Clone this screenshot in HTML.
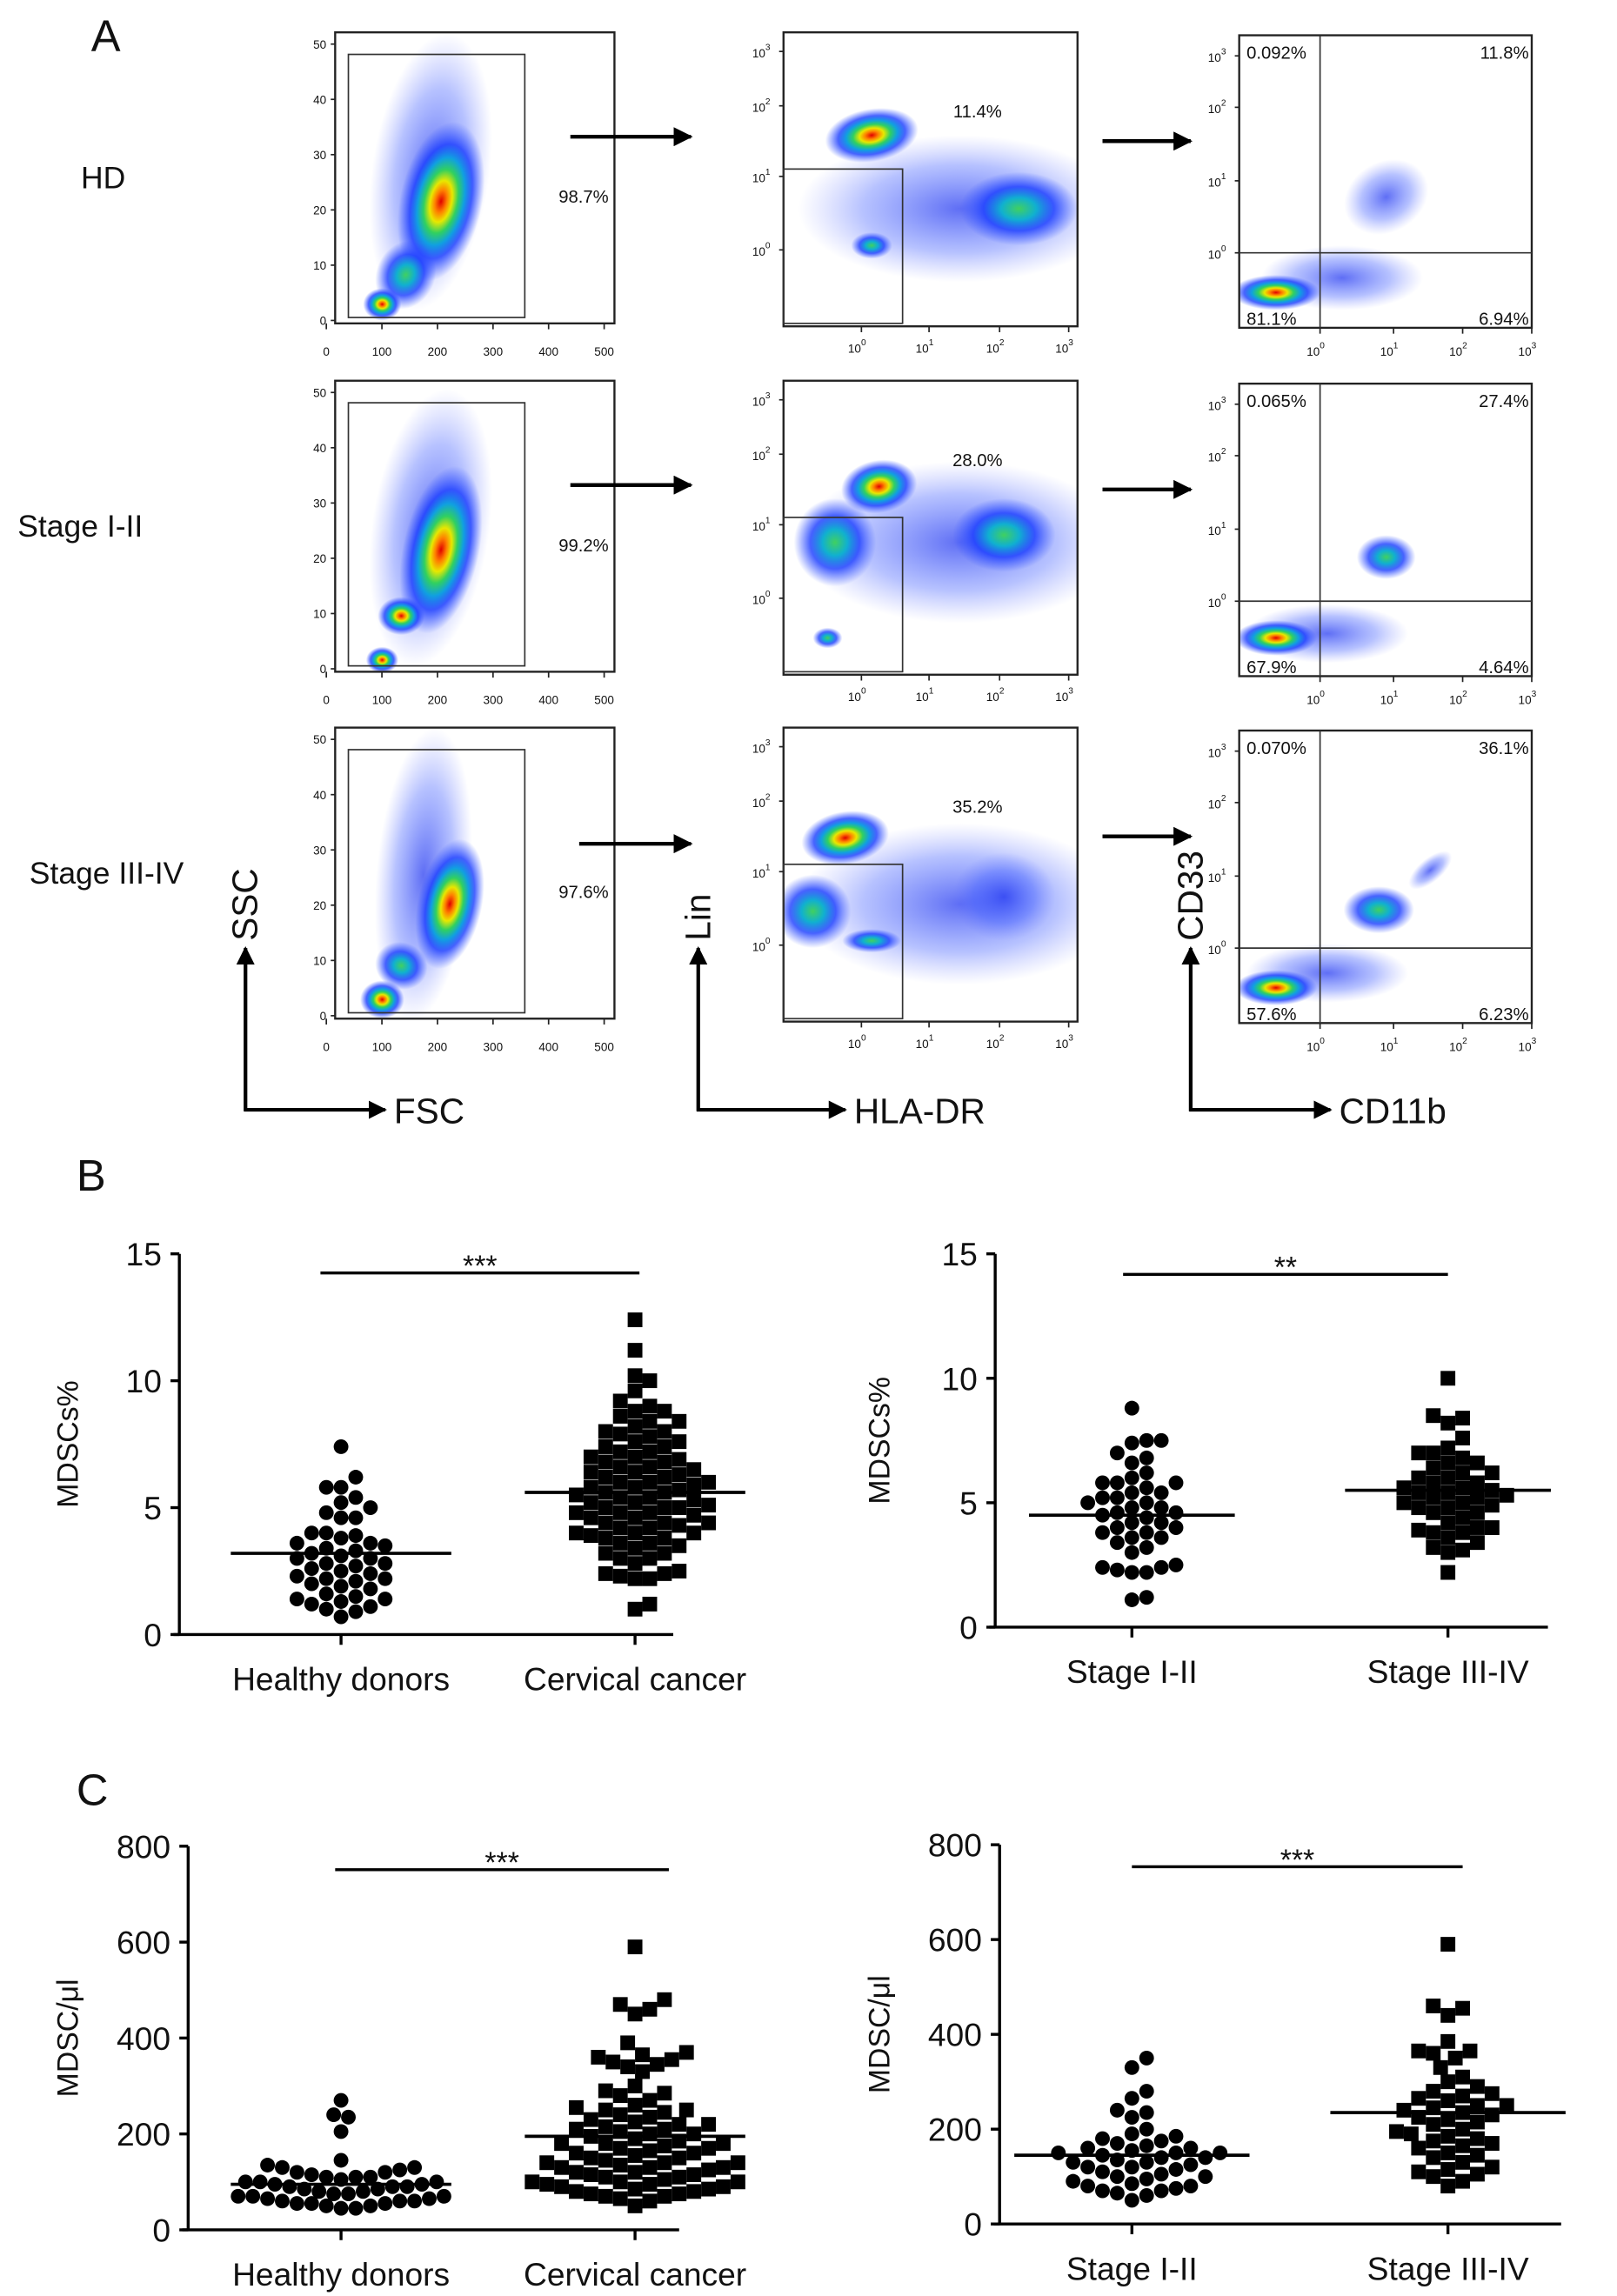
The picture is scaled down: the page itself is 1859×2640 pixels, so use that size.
<!DOCTYPE html>
<html><head><meta charset="utf-8"><title>MDSC figure</title>
<style>
html,body{margin:0;padding:0;background:#fff}
svg{display:block}
text{font-family:"Liberation Sans",Arial,sans-serif;fill:#111}
</style></head>
<body>
<svg id="fig" width="1859" height="2640" viewBox="0 0 1100 1562" preserveAspectRatio="none" xmlns="http://www.w3.org/2000/svg">
<defs>
<radialGradient id="hot"><stop offset="0" stop-color="#e00000"/><stop offset="0.14" stop-color="#ff8000"/><stop offset="0.26" stop-color="#e8e800"/><stop offset="0.4" stop-color="#30d060"/><stop offset="0.55" stop-color="#10a0e0"/><stop offset="0.72" stop-color="#1a3cff" stop-opacity="0.8"/><stop offset="1" stop-color="#3050ff" stop-opacity="0"/></radialGradient>
<radialGradient id="warm"><stop offset="0" stop-color="#40d060"/><stop offset="0.3" stop-color="#10b0d0"/><stop offset="0.6" stop-color="#1a3cff" stop-opacity="0.8"/><stop offset="1" stop-color="#3050ff" stop-opacity="0"/></radialGradient>
<radialGradient id="cool"><stop offset="0" stop-color="#1a30f0" stop-opacity="0.7"/><stop offset="0.6" stop-color="#3050ff" stop-opacity="0.35"/><stop offset="1" stop-color="#6070ff" stop-opacity="0"/></radialGradient>
<marker id="ah" viewBox="0 0 10 10" refX="9" refY="5" markerWidth="5" markerHeight="5" orient="auto"><path d="M0,0 L10,5 L0,10z" fill="#000"/></marker>
</defs>
<g id="flow"></g>
</svg>
<script>
const NS='http://www.w3.org/2000/svg';
const fig=document.getElementById('fig');
function el(tag,attrs,parent){const e=document.createElementNS(NS,tag);for(const k in attrs)e.setAttribute(k,attrs[k]);(parent||fig).appendChild(e);return e;}
function txt(x,y,s,size,anchor,parent,extra){const t=el('text',Object.assign({x:x,y:y,'font-size':size,'text-anchor':anchor||'start'},extra||{}),parent);t.textContent=s;return t;}

// ---------- Panel A (flow cytometry) ----------
const rowLabels=['HD','Stage I-II','Stage III-IV'];
const rowLabelX=[55,12,20];
const gatePct=['98.7%','99.2%','97.6%'];
const linPct=['11.4%','28.0%','35.2%'];
const q1=['0.092%','0.065%','0.070%'];
const q2=['11.8%','27.4%','36.1%'];
const q3=['81.1%','67.9%','57.6%'];
const q4=['6.94%','4.64%','6.23%'];
const rowOff=[0,237,473];

let t=txt(62,35,'A',30);

const blobs1=[[[65,95,40,95,8,'cool'],[72,115,28,55,12,'hot'],[48,165,20,24,25,'warm'],[32,185,13,11,0,'hot']],
 [[65,100,40,95,8,'cool'],[72,115,26,58,12,'hot'],[45,160,16,13,0,'hot'],[32,190,11,9,0,'hot']],
 [[60,100,32,100,5,'cool'],[78,120,22,45,12,'hot'],[45,162,18,16,20,'warm'],[32,185,15,13,0,'hot']]];
const blobs2=[[[120,120,110,50,0,'cool'],[60,70,32,18,-10,'hot'],[160,120,40,25,0,'warm'],[60,145,14,9,0,'warm']],
 [[120,110,110,55,0,'cool'],[65,72,26,18,-10,'hot'],[35,110,28,30,0,'warm'],[150,105,35,25,0,'warm'],[30,175,10,7,0,'warm']],
 [[120,120,110,55,0,'cool'],[42,75,30,18,-10,'hot'],[20,125,26,25,0,'warm'],[150,115,35,30,0,'cool'],[60,145,20,8,0,'warm']]];
const blobs3=[[[70,165,55,22,0,'cool'],[100,110,30,24,-30,'cool'],[25,175,30,12,0,'hot']],
 [[60,170,55,20,0,'cool'],[100,118,20,15,0,'warm'],[25,173,28,12,0,'hot']],
 [[60,165,55,20,0,'cool'],[95,122,24,16,0,'warm'],[25,175,28,12,0,'hot'],[130,95,18,8,-40,'cool']]];

const flow=document.getElementById('flow');
function blobDraw(g,bx,by,list){
  list.forEach(b=>{const e=el('ellipse',{cx:bx+b[0],cy:by+b[1],rx:b[2],ry:b[3],transform:`rotate(${b[4]} ${bx+b[0]} ${by+b[1]})`,fill:`url(#${b[5]})`},g);
  
  });
}
const linTicks=['0','1','2','3'];
for(let r=0;r<3;r++){
  const oy=rowOff[r];
  const g=el('g',{},flow);
  
  
  let lbl=txt(rowLabelX[r],128+oy,rowLabels[r],21,'start',g);
  
  
  const c1x=228,c1y=22+oy;
  const clip=el('clipPath',{id:'c1'+r},g);el('rect',{x:c1x,y:c1y,width:190,height:198},clip);
  const bg=el('g',{'clip-path':`url(#c1${r})`},g);
  blobDraw(bg,c1x,c1y,blobs1[r]);
  el('rect',{x:c1x,y:c1y,width:190,height:198,fill:'none',stroke:'#222','stroke-width':1.4},g);
  el('rect',{x:237,y:37+oy,width:120,height:179,fill:'none',stroke:'#333','stroke-width':1},g);
  [0,100,200,300,400,500].forEach((v,i)=>{const x=222+v/500*189;el('line',{x1:x,y1:c1y+198,x2:x,y2:c1y+202,stroke:'#222'},g);txt(x,c1y+220,String(v),8,'middle',g);});
  [0,10,20,30,40,50].forEach(v=>{const y=c1y+196-v/50*188;el('line',{x1:c1x-3,y1:y,x2:c1x,y2:y,stroke:'#222'},g);txt(c1x-6,y+3,String(v),8,'end',g);});
  txt(397,138+oy,gatePct[r],12,'middle',g);
  const a1=el('line',{x1:388+(r==2?6:0),y1:93+oy+(r==2?8:0),x2:470,y2:93+oy+(r==2?8:0),stroke:'#000','stroke-width':2.6,'marker-end':'url(#ah)'},g);
  
  const c2x=533,c2y=22+oy;
  const clip2=el('clipPath',{id:'c2'+r},g);el('rect',{x:c2x,y:c2y,width:200,height:200},clip2);
  const bg2=el('g',{'clip-path':`url(#c2${r})`},g);
  blobDraw(bg2,c2x,c2y,blobs2[r]);
  el('rect',{x:c2x,y:c2y,width:200,height:200,fill:'none',stroke:'#222','stroke-width':1.4},g);
  el('rect',{x:c2x,y:115+oy,width:81,height:105,fill:'none',stroke:'#333','stroke-width':1},g);
  [586,632,680,727].forEach((x,i)=>{el('line',{x1:x,y1:c2y+200,x2:x,y2:c2y+204,stroke:'#222'},g);const tt=txt(x-3,c2y+218,'10',8,'middle',g);const s=el('tspan',{dy:-5,'font-size':6},tt);s.textContent=linTicks[i];});
  [35,72,120,170].forEach((y,i)=>{el('line',{x1:c2x-3,y1:y+oy,x2:c2x,y2:y+oy,stroke:'#222'},g);const tt=txt(c2x-9,y+oy+4,'10',8,'end',g);const s=el('tspan',{dy:-5,'font-size':6},tt);s.textContent=linTicks[3-i];});
  txt(665,80+oy,linPct[r],12,'middle',g);
  const a2=el('line',{x1:750,y1:96+oy,x2:810,y2:96+oy,stroke:'#000','stroke-width':2.6,'marker-end':'url(#ah)'},g);
  
  const c3x=843,c3y=24+oy;
  const clip3=el('clipPath',{id:'c3'+r},g);el('rect',{x:c3x,y:c3y,width:199,height:199},clip3);
  const bg3=el('g',{'clip-path':`url(#c3${r})`},g);
  blobDraw(bg3,c3x,c3y,blobs3[r]);
  el('rect',{x:c3x,y:c3y,width:199,height:199,fill:'none',stroke:'#222','stroke-width':1.4},g);
  el('line',{x1:898,y1:c3y,x2:898,y2:c3y+199,stroke:'#333'},g);
  el('line',{x1:c3x,y1:172+oy,x2:c3x+199,y2:172+oy,stroke:'#333'},g);
  [898,948,995,1042].forEach((x,i)=>{el('line',{x1:x,y1:c3y+199,x2:x,y2:c3y+203,stroke:'#222'},g);const tt=txt(x-3,c3y+218,'10',8,'middle',g);const s=el('tspan',{dy:-5,'font-size':6},tt);s.textContent=linTicks[i];});
  [38,73,123,172].forEach((y,i)=>{el('line',{x1:c3x-3,y1:y+oy,x2:c3x,y2:y+oy,stroke:'#222'},g);const tt=txt(c3x-9,y+oy+4,'10',8,'end',g);const s=el('tspan',{dy:-5,'font-size':6},tt);s.textContent=linTicks[3-i];});
  txt(848,40+oy,q1[r],12,'start',g);txt(1040,40+oy,q2[r],12,'end',g);
  txt(848,221+oy,q3[r],12,'start',g);txt(1040,221+oy,q4[r],12,'end',g);
}
[[167,262,'SSC','FSC'],[475,575,'Lin','HLA-DR'],[810,905,'CD33','CD11b']].forEach(a=>{
  const g=el('g',{});
  
  
  el('line',{x1:a[0],y1:756,x2:a[0],y2:645,stroke:'#000','stroke-width':2.5,'marker-end':'url(#ah)'},g);
  el('line',{x1:a[0]-1,y1:755,x2:a[1],y2:755,stroke:'#000','stroke-width':2.5,'marker-end':'url(#ah)'},g);
  txt(a[1]+6,764,a[3],24,'start',g);
  txt(a[0]+8,640,a[2],24,'start',g,{transform:`rotate(-90 ${a[0]+8} 640)`});
});

// ---------- Panels B & C ----------
const catsB1=['Healthy donors','Cervical cancer'];
const catsB2=['Stage I-II','Stage III-IV'];
const ticksPct=[0,5,10,15];
const ticksUl=[0,200,400,600,800];
const hdPct=[7.4,6.2,5.8,5.8,5.4,5.2,5.0,4.8,4.6,4.6,4.0,4.0,3.9,3.8,3.6,3.6,3.5,3.4,3.3,3.2,3.1,3.0,3.0,2.8,2.8,2.7,2.6,2.5,2.4,2.3,2.2,2.2,2.1,2.0,1.9,1.8,1.6,1.5,1.4,1.4,1.3,1.2,1.1,1.0,0.9,0.7];
const ccPct=[12.4,11.2,10.2,10.0,9.6,9.2,9.0,8.8,8.8,8.6,8.4,8.4,8.2,8.0,8.0,7.9,7.8,7.6,7.6,7.4,7.4,7.2,7.2,7.0,7.0,6.9,6.8,6.8,6.6,6.6,6.5,6.4,6.4,6.3,6.2,6.2,6.0,6.0,6.0,5.9,5.8,5.8,5.7,5.6,5.6,5.5,5.4,5.4,5.3,5.2,5.2,5.1,5.0,5.0,5.0,4.8,4.8,4.8,4.7,4.6,4.6,4.4,4.4,4.4,4.3,4.2,4.2,4.0,4.0,4.0,3.9,3.8,3.8,3.6,3.6,3.5,3.4,3.2,3.2,3.0,3.0,2.8,2.5,2.4,2.4,2.3,2.2,2.2,1.2,1.0];
const s12Pct=[8.8,7.5,7.5,7.4,7.0,6.8,6.6,6.2,6.0,5.8,5.8,5.8,5.6,5.4,5.4,5.2,5.2,5.0,5.0,4.8,4.8,4.6,4.6,4.5,4.4,4.2,4.2,4.0,4.0,3.8,3.8,3.6,3.6,3.4,3.2,3.0,2.5,2.4,2.4,2.3,2.2,2.2,1.2,1.1];
const s34Pct=[10.0,8.5,8.4,8.2,7.6,7.2,7.0,7.0,6.8,6.6,6.6,6.4,6.2,6.2,6.0,6.0,5.8,5.8,5.6,5.6,5.5,5.4,5.4,5.3,5.2,5.2,5.0,5.0,4.9,4.8,4.8,4.6,4.6,4.4,4.2,4.0,4.0,3.9,3.8,3.8,3.6,3.4,3.2,3.1,3.0,2.2];
const hdUl=[270,240,235,205,145,135,130,130,125,120,120,115,110,110,110,105,100,100,100,95,95,90,90,90,85,85,80,80,75,75,70,70,70,65,65,60,60,60,55,55,55,50,50,45,45];
const ccUl=[590,480,470,460,450,390,370,365,360,355,350,345,340,330,300,290,285,280,270,260,255,250,250,245,240,235,230,225,220,220,215,210,210,205,200,200,195,190,185,180,180,180,175,170,170,165,160,160,155,150,150,145,140,140,140,135,130,130,130,125,120,120,115,115,110,110,105,100,100,100,95,95,90,90,85,85,80,80,75,75,70,70,65,60,50];
const s12Ul=[350,330,280,265,240,235,225,200,190,185,180,175,170,165,160,160,155,150,150,150,145,140,140,135,130,130,125,120,120,115,110,105,100,100,95,90,85,80,80,75,70,70,65,60,50];
const s34Ul=[590,460,455,440,385,365,365,360,350,330,310,300,290,280,275,270,265,260,250,250,245,240,235,230,225,220,215,210,200,195,190,185,180,175,170,165,160,150,145,140,130,120,115,110,105,100,90,80];
const means={hdPct:3.2,ccPct:5.6,s12Pct:4.5,s34Pct:5.5,hdUl:95,ccUl:195,s12Ul:145,s34Ul:235};

function chart(cfg){
  const g=el('g',{});
  
  
  const max=cfg.ticks[cfg.ticks.length-1];
  const yS=v=>cfg.y0-(v/max)*(cfg.y0-cfg.yTop);
  el('line',{x1:cfg.ax,y1:cfg.yTop,x2:cfg.ax,y2:cfg.y0,stroke:'#000','stroke-width':2},g);
  el('line',{x1:cfg.ax-4,y1:cfg.y0,x2:cfg.axEnd,y2:cfg.y0,stroke:'#000','stroke-width':2},g);
  cfg.ticks.forEach(v=>{const y=yS(v);el('line',{x1:cfg.ax-6,y1:y,x2:cfg.ax,y2:y,stroke:'#000','stroke-width':2},g);
    const tl=txt(cfg.ax-12,y+8,String(v),22,'end',g);
    
    });
  const yt=txt(0,0,cfg.ytitle,20,'middle',g,{transform:`translate(${cfg.ytx} ${(cfg.yTop+cfg.y0)/2}) rotate(-90)`});
  
  
  cfg.cats.forEach((c,i)=>{const x=cfg.cx[i];el('line',{x1:x,y1:cfg.y0,x2:x,y2:cfg.y0+7,stroke:'#000','stroke-width':2},g);
    const xl=txt(x,cfg.y0+38,c,22,'middle',g);
    
    
    const vals=cfg.series[i].slice().sort((a,b)=>a-b);
    const placed=[];const d=cfg.sp;const maxW=cfg.maxW[i];
    vals.forEach(v=>{const y=yS(v);let best=null,bestScore=1e9,bestOff=0;
      for(let k=0;k<80;k++){const off=(k%2?1:-1)*Math.ceil(k/2)*d*0.5;
        if(Math.abs(off)>maxW)break;
        const minD=placed.reduce((m,p)=>Math.min(m,Math.hypot(p[0]-off,p[1]-y)),1e9);
        if(minD>=d){best=off;break;}
        const score=-minD;if(score<bestScore){bestScore=score;bestOff=off;}}
      if(best===null)best=bestOff;placed.push([best,y]);
      if(i===0&&cfg.circle){const m=el('circle',{cx:x+best,cy:y,r:5,fill:'#000'},g);
        
        }
      else{const m=el('rect',{x:x+best-5,y:y-5,width:10,height:10,fill:'#000'},g);
        
        }
    });
    const my=yS(cfg.means[i]);
    const ml=el('line',{x1:x-cfg.mw,y1:my,x2:x+cfg.mw,y2:my,stroke:'#000','stroke-width':2.2},g);
    
    
  });
  const sl=el('line',{x1:cfg.sig[0],y1:cfg.sig[2],x2:cfg.sig[1],y2:cfg.sig[2],stroke:'#000','stroke-width':2},g);
  
  
  txt((cfg.sig[0]+cfg.sig[1])/2,cfg.sig[2]+2,cfg.stars,20,'middle',g);
}
t=txt(52,810,'B',30);
t=txt(52,1228,'C',30);
chart({name:'chart-b-left',ax:122,axEnd:458,y0:1112,yTop:853,ticks:ticksPct,ytitle:'MDSCs%',ytx:53,cats:catsB1,cx:[232,432],series:[hdPct,ccPct],means:[means.hdPct,means.ccPct],circle:true,sp:10,maxW:[62,75],mw:75,sig:[218,435,866],stars:'***'});
chart({name:'chart-b-right',ax:677,axEnd:1053,y0:1107,yTop:853,ticks:ticksPct,ytitle:'MDSCs%',ytx:605,cats:catsB2,cx:[770,985],series:[s12Pct,s34Pct],means:[means.s12Pct,means.s34Pct],circle:true,sp:10,maxW:[62,65],mw:70,sig:[764,985,867],stars:'**'});
chart({name:'chart-c-left',ax:128,axEnd:462,y0:1517,yTop:1256,ticks:ticksUl,ytitle:'MDSC/μl',ytx:53,cats:catsB1,cx:[232,432],series:[hdUl,ccUl],means:[means.hdUl,means.ccUl],circle:true,sp:10,maxW:[70,78],mw:75,sig:[228,455,1272],stars:'***'});
chart({name:'chart-c-right',ax:680,axEnd:1062,y0:1513,yTop:1255,ticks:ticksUl,ytitle:'MDSC/μl',ytx:605,cats:catsB2,cx:[770,985],series:[s12Ul,s34Ul],means:[means.s12Ul,means.s34Ul],circle:true,sp:10,maxW:[62,65],mw:80,sig:[770,995,1270],stars:'***'});
</script>
</body></html>
